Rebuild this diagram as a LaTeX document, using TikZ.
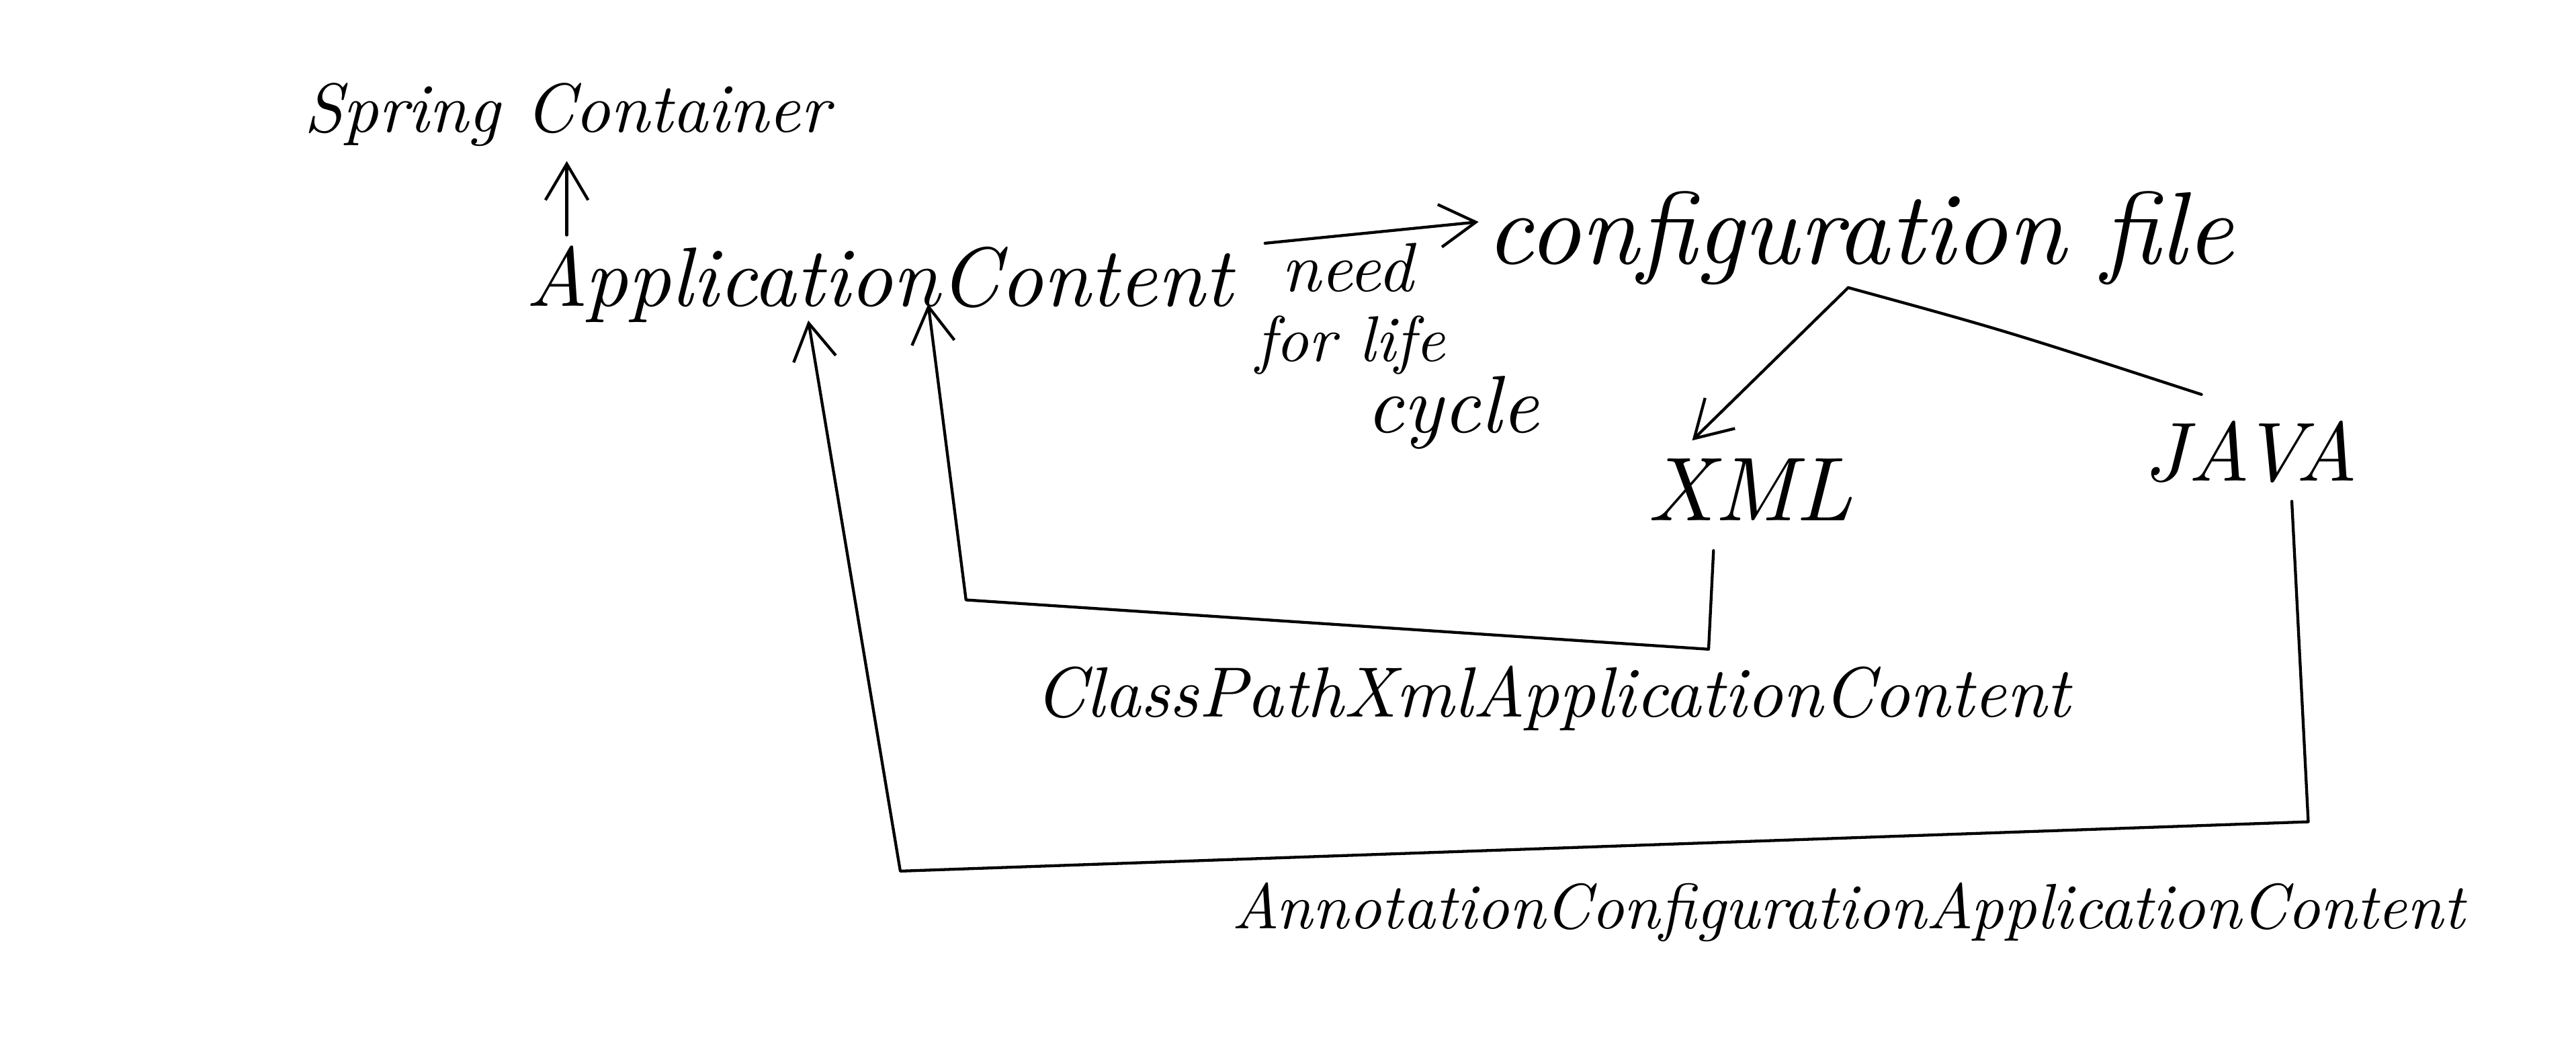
\documentclass[tikz,border=0pt]{standalone}
\usepackage{graphicx}
\usetikzlibrary{arrows.meta}
\newcommand{\fitw}[2]{\resizebox{#1cm}{!}{\itshape #2}}
\tikzset{
  hand/.style={inner sep=0pt, anchor=center},
  conn/.style={line width=0.5pt, line join=round, line cap=round},
  arr/.style={conn, -{Straight Barb[length=2.2mm, width=2.6mm]}}
}
\begin{document}
\begin{tikzpicture}
\useasboundingbox (0,0) rectangle (15.68,6.41);
% texts
\node[hand] (spring) at (3.45,5.71) {\fitw{3.2}{Spring Container}};
\node[hand] (appctx) at (5.35,4.68) {\fitw{4.3}{ApplicationContent}};
\node[hand] (conf) at (11.32,4.96) {\fitw{4.55}{configuration file}};
\node[hand] (need) at (8.20,4.78) {\fitw{0.8}{need}};
\node[hand] (forlife) at (8.22,4.31) {\fitw{1.15}{for life}};
\node[hand] (cycle) at (8.84,3.90) {\fitw{1.05}{cycle}};
\node[hand] (xml) at (10.65,3.43) {\fitw{1.25}{XML}};
\node[hand] (java) at (13.70,3.66) {\fitw{1.3}{JAVA}};
\node[hand] (cp) at (9.45,2.16) {\fitw{6.3}{ClassPathXmlApplicationContent}};
\node[hand] (ann) at (11.25,0.86) {\fitw{7.5}{AnnotationConfigurationApplicationContent}};
% coordinates
\coordinate (s1) at (3.45,4.98);
\coordinate (s2) at (3.45,5.43);
\coordinate (n1) at (7.70,4.93);
\coordinate (n2) at (9.00,5.06);
\coordinate (split) at (11.25,4.66);
\coordinate (xmltop) at (10.30,3.73);
\coordinate (javatop) at (13.40,4.01);
\coordinate (x1) at (10.43,3.06);
\coordinate (x2) at (10.40,2.46);
\coordinate (x3) at (5.88,2.76);
\coordinate (x4) at (5.65,4.56);
\coordinate (j1) at (13.95,3.36);
\coordinate (j2) at (14.05,1.41);
\coordinate (j3) at (5.48,1.11);
\coordinate (j4) at (4.92,4.46);
% connectors
\draw[arr] (s1) -- (s2);
\draw[arr] (n1) -- (n2);
\draw[arr] (split) -- (xmltop);
\draw[conn] (split) .. controls (12.2,4.4) .. (javatop);
\draw[arr] (x1) -- (x2) -- (x3) -- (x4);
\draw[arr] (j1) -- (j2) -- (j3) -- (j4);
\end{tikzpicture}
\end{document}
